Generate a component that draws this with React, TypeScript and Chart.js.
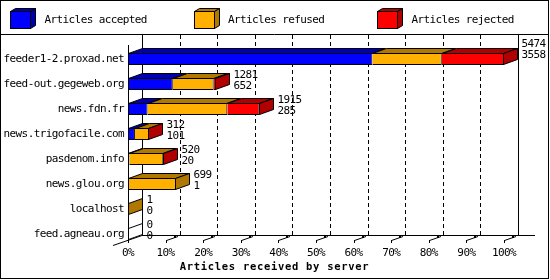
import { useEffect, useRef } from 'react';
import { Chart, registerables } from 'chart.js';

Chart.register(...registerables);

const servers = [
  'feeder1-2.proxad.net',
  'feed-out.gegeweb.org',
  'news.fdn.fr',
  'news.trigofacile.com',
  'pasdenom.info',
  'news.glou.org',
  'localhost',
  'feed.agneau.org',
];
const received = [5474, 1281, 1915, 312, 520, 699, 1, 0];
const accepted = [3558, 652, 285, 101, 20, 1, 0, 0];
const refused = [1010, 595, 1161, 209, 494, 698, 1, 0];
const rejected = [906, 34, 469, 2, 6, 0, 0, 0];
const seriesNames = ['Articles accepted', 'Articles refused', 'Articles rejected'];
const xTicks = [0, 10, 20, 30, 40, 50, 60, 70, 80, 90, 100];
const axisTitle = 'Articles received by server';

const FONT = 'DejaVu Sans Mono';
const FSIZE = 11;
const SPACING = '-0.6px';
const FRONT = ['#0000FF', '#FFB000', '#FF0000'];
const DARK = ['#0000B0', '#B07800', '#B00000'];
const DX = 14;
const DY = -5;

const maxReceived = Math.max(...received);
const toPct = (arr: number[]) => arr.map((v) => (v / maxReceived) * 100);

const threeD = {
  id: 'threeD',
  beforeDraw(chart: any) {
    const ctx = chart.ctx;
    ctx.save();
    ctx.fillStyle = '#fff';
    ctx.fillRect(0, 0, chart.width, chart.height);
    ctx.restore();
    (ctx as any).letterSpacing = SPACING;
  },
  beforeDatasetsDraw(chart: any) {
    const ctx = chart.ctx;
    const x = chart.scales.x;
    const floorF = 240;
    const floorB = floorF + DY;
    const top = 35;
    const line = (x1: number, y1: number, x2: number, y2: number) => {
      ctx.beginPath();
      ctx.moveTo(x1, y1);
      ctx.lineTo(x2, y2);
      ctx.stroke();
    };
    ctx.save();
    ctx.strokeStyle = '#000';
    ctx.fillStyle = '#000';
    ctx.lineWidth = 1;
    ctx.setLineDash([4, 3]);
    xTicks.forEach((t) => {
      if (t > 0 && t < 100) {
        const xb = Math.round(x.getPixelForValue(t) + DX) + 0.5;
        line(xb, floorB, xb, top);
      }
    });
    ctx.setLineDash([]);
    const x0 = Math.round(x.getPixelForValue(0));
    const x100 = Math.round(x.getPixelForValue(100));
    line(x0 + DX + 0.5, top, x0 + DX + 0.5, floorB);
    line(x100 + DX + 0.5, top, x100 + DX + 0.5, floorB);
    line(x0 + DX, floorB + 0.5, 535, floorB + 0.5);
    line(x0 - 15, floorF + 5.5, x0 + DX, floorB + 0.5);
    xTicks.forEach((t) => {
      if (t > 0) {
        const xf = Math.round(x.getPixelForValue(t));
        line(xf + 0.5, floorF + 0.5, xf + DX - 2, floorB + 1.5);
        line(xf + 0.5, floorF, xf + 0.5, floorF + 3);
        ctx.fillRect(xf + DX - 6, floorB + 1, 2, 2);
      }
    });
    ctx.restore();
  },
  afterDatasetsDraw(chart: any) {
    const ctx = chart.ctx;
    const x = chart.scales.x;
    const x0 = Math.round(x.getPixelForValue(0));
    ctx.save();
    ctx.strokeStyle = '#000';
    ctx.lineWidth = 1;
    const poly = (pts: number[][], fill: string) => {
      ctx.beginPath();
      ctx.moveTo(pts[0][0], pts[0][1]);
      for (let k = 1; k < pts.length; k++) ctx.lineTo(pts[k][0], pts[k][1]);
      ctx.closePath();
      ctx.fillStyle = fill;
      ctx.fill();
      ctx.stroke();
    };
    servers.forEach((_, i) => {
      const series = [accepted, refused, rejected];
      let lastD = -1;
      let T = 0;
      let B = 0;
      let lastRight = x0;
      let rowY = 0;
      series.forEach((arr, d) => {
        const el = chart.getDatasetMeta(d).data[i];
        const p = el.getProps(['x', 'base', 'y', 'height'], true);
        const left = Math.min(p.base, p.x);
        const right = Math.max(p.base, p.x);
        rowY = p.y;
        T = Math.round(p.y - p.height / 2) + 0.5;
        B = Math.round(p.y + p.height / 2) - 0.5;
        if (arr[i] > 0) {
          lastD = d;
          lastRight = right;
          const L = Math.round(left) + 0.5;
          const R = Math.max(L, Math.round(right) - 0.5);
          if (right - left > 0.5) {
            poly([[L, T], [R, T], [R + DX, T + DY], [L + DX, T + DY]], DARK[d]);
          }
        }
      });
      const R = Math.max(x0 + 0.5, Math.round(lastRight) - 0.5);
      poly([[R, T], [R + DX, T + DY], [R + DX, B + DY], [R, B]], lastD >= 0 ? DARK[lastD] : '#fff');
      ctx.fillStyle = '#000';
      ctx.font = `${FSIZE}px ${FONT}`;
      ctx.textAlign = 'left';
      ctx.textBaseline = 'middle';
      const lx = R + DX + 4;
      const shift = received[i] === maxReceived ? -6 : 0;
      ctx.fillText(String(received[i]), lx, rowY - 9 + shift);
      ctx.fillText(String(accepted[i]), lx, rowY + 2.5 + shift);
    });
    ctx.beginPath();
    ctx.moveTo(x0 + 0.5, 45);
    ctx.lineTo(x0 + 0.5, 243);
    ctx.stroke();
    ctx.restore();
  },
  afterDraw(chart: any) {
    const ctx = chart.ctx;
    ctx.save();
    ctx.strokeStyle = '#000';
    ctx.lineWidth = 1;
    ctx.strokeRect(0.5, 0.5, 548, 278);
    ctx.beginPath();
    ctx.moveTo(0, 34.5);
    ctx.lineTo(549, 34.5);
    ctx.stroke();
    const bxs = [10, 193.5, 377];
    seriesNames.forEach((name, d) => {
      const bx = Math.round(bxs[d]) + 0.5;
      const by = 11.5;
      const w = 20;
      const h = 17;
      const ddx = 5;
      const ddy = -3;
      const poly = (pts: number[][], fill: string) => {
        ctx.beginPath();
        ctx.moveTo(pts[0][0], pts[0][1]);
        for (let k = 1; k < pts.length; k++) ctx.lineTo(pts[k][0], pts[k][1]);
        ctx.closePath();
        ctx.fillStyle = fill;
        ctx.fill();
        ctx.stroke();
      };
      poly([[bx, by], [bx + w, by], [bx + w + ddx, by + ddy], [bx + ddx, by + ddy]], DARK[d]);
      poly([[bx + w, by], [bx + w + ddx, by + ddy], [bx + w + ddx, by + h + ddy], [bx + w, by + h]], DARK[d]);
      ctx.fillStyle = FRONT[d];
      ctx.fillRect(bx, by, w, h);
      ctx.strokeRect(bx, by, w, h);
      ctx.fillStyle = '#000';
      ctx.font = `${FSIZE}px ${FONT}`;
      ctx.textAlign = 'left';
      ctx.textBaseline = 'middle';
      ctx.fillText(name, bxs[d] + 34.5, 20);
    });
    // axis title, centred on the image
    (ctx as any).letterSpacing = '0.7px';
    ctx.font = `bold 10.5px ${FONT}`;
    ctx.textAlign = 'center';
    ctx.textBaseline = 'middle';
    ctx.fillStyle = '#000';
    ctx.fillText(axisTitle, 274.5, 267);
    ctx.restore();
  },
};

export default function App() {
  const ref = useRef<HTMLCanvasElement | null>(null);
  useEffect(() => {
    document.body.style.margin = '0';
    const canvas = ref.current;
    if (!canvas) return;
    const series = [accepted, refused, rejected];
    const chart = new Chart(canvas, {
      type: 'bar',
      data: {
        labels: servers,
        datasets: series.map((arr, d) => ({
          label: seriesNames[d],
          data: toPct(arr),
          backgroundColor: FRONT[d],
          borderColor: '#000',
          borderWidth: 1,
          borderSkipped: 'start',
          barThickness: 12,
          inflateAmount: 0,
        })),
      },
      options: {
        indexAxis: 'y',
        responsive: false,
        animation: false,
        devicePixelRatio: 1,
        layout: { padding: { top: 46.5, right: 46, left: 0, bottom: 0 } },
        scales: {
          x: {
            stacked: true,
            min: 0,
            max: 100,
            grid: { display: false, drawTicks: false },
            border: { display: false },
            afterBuildTicks: (s: any) => {
              s.ticks = xTicks.map((v) => ({ value: v }));
            },
            ticks: {
              autoSkip: false,
              maxRotation: 0,
              padding: 0,
              color: '#000',
              font: { family: FONT, size: FSIZE },
              callback: (v: any) => `${v}%`,
            },
            afterFit: (s: any) => {
              s.height = 33.5;
            },
          },
          y: {
            stacked: true,
            grid: { display: false, drawTicks: false },
            border: { display: false },
            ticks: { padding: 4, color: '#000', font: { family: FONT, size: FSIZE } },
            afterFit: (s: any) => {
              s.width = 128;
            },
          },
        },
        plugins: {
          legend: { display: false },
          tooltip: { enabled: false },
          title: { display: false },
        },
      },
      plugins: [threeD],
    } as any);
    return () => chart.destroy();
  }, []);
  return <canvas ref={ref} width={550} height={280} style={{ display: 'block' }} />;
}
